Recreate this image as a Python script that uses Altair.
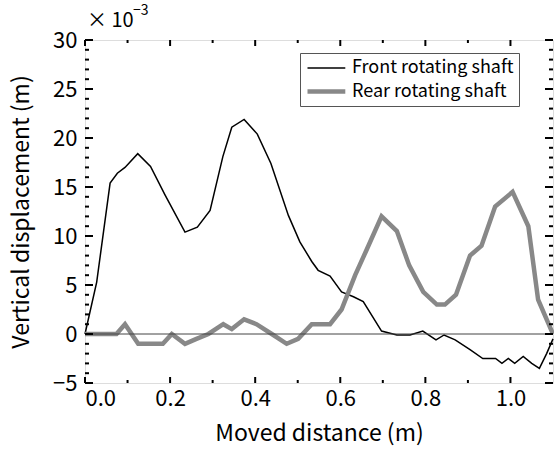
import altair as alt
import pandas as pd

# Front rotating shaft (x in m, y in 1e-3 m)
front_x = [0.0, 0.0275, 0.059, 0.076, 0.094, 0.124, 0.154, 0.188, 0.235, 0.264, 0.294, 0.324,
           0.345, 0.374, 0.405, 0.437, 0.478, 0.505, 0.533, 0.548, 0.576, 0.603, 0.631, 0.654,
           0.697, 0.733, 0.764, 0.794, 0.825, 0.844, 0.87, 0.905, 0.935, 0.965, 0.98, 0.995,
           1.01, 1.03, 1.05, 1.068, 1.085, 1.1]
front_y = [0.0, 5.3, 15.4, 16.4, 17.0, 18.4, 17.1, 14.2, 10.4, 10.9, 12.6, 18.1,
           21.1, 21.9, 20.4, 17.4, 12.1, 9.4, 7.4, 6.5, 5.9, 4.3, 3.8, 3.3,
           0.3, -0.1, -0.1, 0.3, -0.6, -0.1, -0.6, -1.6, -2.5, -2.5, -3.0, -2.5,
           -3.0, -2.3, -3.0, -3.5, -2.0, -0.5]

# Rear rotating shaft
rear_x = [0.0, 0.074, 0.094, 0.125, 0.183, 0.204, 0.235, 0.262, 0.29, 0.325, 0.345, 0.374,
          0.403, 0.439, 0.474, 0.501, 0.533, 0.545, 0.576, 0.603, 0.635, 0.662, 0.697, 0.733,
          0.762, 0.795, 0.827, 0.846, 0.872, 0.905, 0.932, 0.964, 1.005, 1.042, 1.065, 1.1]
rear_y = [0.0, 0.0, 1.0, -1.0, -1.0, 0.0, -1.0, -0.5, 0.0, 1.0, 0.5, 1.5,
          1.0, 0.0, -1.0, -0.5, 1.0, 1.0, 1.0, 2.5, 6.0, 8.6, 12.0, 10.5,
          7.0, 4.3, 3.0, 3.0, 4.0, 8.0, 9.0, 13.0, 14.5, 11.0, 3.5, 0.0]

series_names = ["Front rotating shaft", "Rear rotating shaft"]
x_tick_labels = [0.0, 0.2, 0.4, 0.6, 0.8, 1.0]
y_tick_labels = [-5, 0, 5, 10, 15, 20, 25, 30]
x_minor = [0.1, 0.3, 0.5, 0.7, 0.9]
y_minor = [v for v in range(-5, 31) if v % 5 != 0]

W, H = 468, 343
FONT = "Noto Sans CJK JP"

df = pd.concat([
    pd.DataFrame({"series": series_names[0], "x": front_x, "y": front_y, "o": range(len(front_x))}),
    pd.DataFrame({"series": series_names[1], "x": rear_x, "y": rear_y, "o": range(len(rear_x))}),
])

xscale = alt.Scale(domain=[0, 1.1], nice=False, zero=False)
yscale = alt.Scale(domain=[-5, 30], nice=False, zero=False)

legend = alt.Legend(orient="none", legendX=215, legendY=13,
                    symbolType="M-1,0H3.2", symbolSize=324,
                    labelFontSize=18, labelFont=FONT, labelColor="black",
                    labelLimit=300,
                    strokeColor="#555555", fillColor="white",
                    padding=5, rowPadding=3, labelOffset=24,
                    cornerRadius=0)

lines = alt.Chart(df).mark_line().encode(
    x=alt.X("x:Q", scale=xscale,
            axis=alt.Axis(title="Moved distance (m)", values=x_tick_labels, format=".1f",
                          tickSize=0, domain=False, grid=False, labelFontSize=22,
                          labelPadding=5, titleFontSize=23, titlePadding=13,
                          labelFont=FONT, titleFont=FONT, titleFontWeight="normal",
                          labelColor="black", titleColor="black")),
    y=alt.Y("y:Q", scale=yscale,
            axis=alt.Axis(title="Vertical displacement (m)", values=y_tick_labels,
                          tickSize=0, domain=False, grid=False, labelFontSize=22,
                          labelPadding=8, titleFontSize=23, titlePadding=19,
                          labelFont=FONT, titleFont=FONT, titleFontWeight="normal",
                          labelColor="black", titleColor="black")),
    color=alt.Color("series:N", title=None,
                    scale=alt.Scale(domain=series_names, range=["black", "#888888"]),
                    legend=legend),
    strokeWidth=alt.StrokeWidth("series:N", title=None,
                                scale=alt.Scale(domain=series_names, range=[1.5, 4.5]),
                                legend=legend),
    order="o:Q",
    detail="series:N",
)

zero_line = alt.Chart(pd.DataFrame({"v": [0]})).mark_rule(color="#444444", strokeWidth=1).encode(
    y=alt.Y("v:Q", scale=yscale)
)

def xticks(vals, length, top):
    d = pd.DataFrame({"v": vals})
    if top:
        yy, yy2 = alt.value(0), alt.value(length)
    else:
        yy, yy2 = alt.value(H), alt.value(H - length)
    return alt.Chart(d).mark_rule(color="black", strokeWidth=2).encode(
        x=alt.X("v:Q", scale=xscale), y=yy, y2=yy2)

def yticks(vals, length, right):
    d = pd.DataFrame({"v": vals})
    if right:
        xx, xx2 = alt.value(W), alt.value(W - length)
    else:
        xx, xx2 = alt.value(0), alt.value(length)
    return alt.Chart(d).mark_rule(color="black", strokeWidth=2).encode(
        y=alt.Y("v:Q", scale=yscale), x=xx, x2=xx2)

ticks = [
    xticks(x_tick_labels, 6, False), xticks(x_tick_labels, 6, True),
    xticks(x_minor, 3, False), xticks(x_minor, 3, True),
    yticks(y_tick_labels, 8, False), yticks(y_tick_labels, 8, True),
    yticks(y_minor, 4, False), yticks(y_minor, 4, True),
]

mult = alt.Chart(pd.DataFrame({"t": ["× 10"]})).mark_text(
    align="left", baseline="middle", fontSize=20, font=FONT, color="black"
).encode(text="t:N", x=alt.value(2), y=alt.value(-19))
sup = alt.Chart(pd.DataFrame({"t": ["−3"]})).mark_text(
    align="left", baseline="middle", fontSize=14, font=FONT, color="black"
).encode(text="t:N", x=alt.value(48), y=alt.value(-29))

chart = alt.layer(lines, zero_line, *ticks, mult, sup).properties(
    width=W, height=H,
    autosize=alt.AutoSizeParams(type="none"),
    padding={"left": 85, "top": 40, "right": 1, "bottom": 71},
).configure_view(stroke="black", strokeWidth=2).configure(background="white")

chart.save("out.html", embed_options={"renderer": "svg", "actions": False})
